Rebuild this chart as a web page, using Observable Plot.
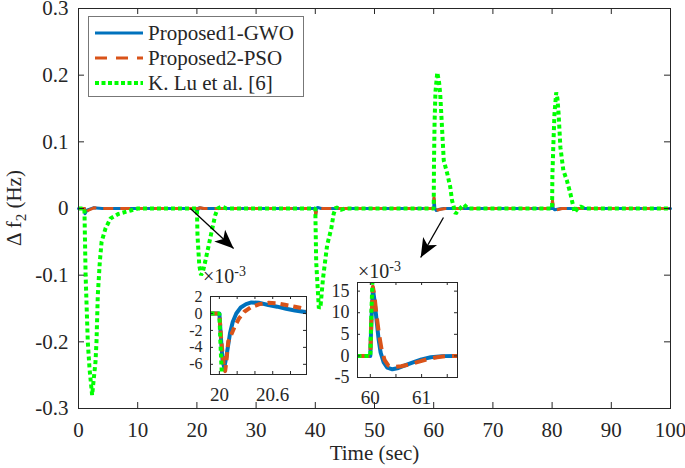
<!DOCTYPE html>
<html><head><meta charset="utf-8">
<script src="https://cdn.jsdelivr.net/npm/d3@7"></script>
<script src="https://cdn.jsdelivr.net/npm/@observablehq/plot@0.6"></script>
<style>
body{margin:0;background:#fff;}
#wrap{position:relative;width:685px;height:468px;font-family:"Liberation Serif",serif;color:#262626;}
.abs{position:absolute;white-space:nowrap;}
</style></head><body><div id="wrap"></div>
<script>
// ---------- main plot data ----------
const xTicks = [0,10,20,30,40,50,60,70,80,90,100];
const yTicks = [-0.3,-0.2,-0.1,0,0.1,0.2,0.3];
const yTickLabels = ["-0.3","-0.2","-0.1","0","0.1","0.2","0.3"];

const gwoT = [0,1,1.1,1.5,2.5,4,20,20.05,20.2,20.4,21,40,40.05,40.2,40.4,41,60,60.05,60.2,60.45,61,61.7,80,80.05,80.2,80.45,81.5,100];
const gwoV = [0,0,-0.008,-0.002,0.001,0,0,-0.0065,0,0.0013,0,0,-0.009,0,0.0015,0,0,0.0155,0,-0.003,-0.001,0,0,0.011,0,-0.002,0,0];
const psoT = [0,1,1.12,1.6,2.6,4,20,20.06,20.25,20.5,21.2,40,40.06,40.25,40.5,41.2,60,60.05,60.22,60.45,61.2,62,80,80.06,80.25,80.5,81.7,100];
const psoV = [0,0,-0.01,-0.003,0.001,0,0,-0.0068,-0.001,0.0012,0,0,-0.01,-0.001,0.0015,0,0,0.016,0.001,-0.0026,-0.001,0,0,0.012,0,-0.0025,0,0];
const luT = [0,1.0,1.2,1.57,1.86,2.3,2.87,3.04,3.26,3.6,3.9,4.56,5.4,6.8,8.8,10,
  20,20.1,20.4,20.7,21.0,21.4,22.0,22.6,23.1,23.5,24.2,25,
  40,40.15,40.6,40.9,41.3,42.0,42.7,43.1,43.5,44.3,45,
  60,60.05,60.15,60.3,60.6,60.9,61.1,61.4,61.7,62.3,62.8,63.1,63.7,64.2,65.1,65.8,
  80,80.05,80.2,80.4,80.7,80.9,81.1,81.4,81.9,82.5,83.1,83.8,84.3,84.8,85.5,100];
const luV = [0,0,-0.1,-0.2,-0.24,-0.28,-0.23,-0.2,-0.13,-0.08,-0.05,-0.03,-0.015,-0.008,-0.003,0,
  0,-0.04,-0.085,-0.1,-0.095,-0.08,-0.055,-0.03,-0.01,0,0.003,0,
  0,-0.08,-0.15,-0.145,-0.105,-0.055,-0.03,-0.008,0.002,-0.002,0,
  0,0.07,0.13,0.175,0.204,0.19,0.172,0.122,0.072,0.052,0.032,0.012,-0.008,-0.002,0.006,0,
  0,0.05,0.092,0.142,0.174,0.165,0.142,0.092,0.057,0.042,0.022,-0.006,0,0.003,0,0];

// annotation arrows (data coords)
const arrowX1 = [18.9, 61.65];
const arrowY1 = [0.0, -0.0135];
const arrowX2 = [26.2, 57.8];
const arrowY2 = [-0.06, -0.0735];

// ---------- inset 1 (x 1e-3) ----------
const in1XTicks = [20,20.2,20.4,20.6,20.8];
const in1XLabels = [20,20.6];
const in1YTicks = [-6,-4,-2,0,2];
const in1GwoT = [19.9,20.0,20.015,20.035,20.055,20.08,20.12,20.15,20.19,20.24,20.3,20.36,20.45,20.55,20.65,20.75,20.85,20.98];
const in1GwoV = [0,0,-2.5,-5.5,-6.4,-5,-2.3,-1,0,0.7,1.1,1.3,1.25,1.0,0.8,0.55,0.35,0.15];
const in1PsoT = [19.9,20.0,20.02,20.05,20.065,20.08,20.1,20.13,20.17,20.22,20.28,20.35,20.45,20.55,20.65,20.75,20.85,20.98];
const in1PsoV = [0,0,-3,-6.3,-6.8,-5.5,-3.3,-2.6,-1.6,-0.6,0.2,0.7,1.1,1.25,1.2,1.0,0.8,0.5];
const in1LuT = [19.9,20.0,20.01,20.03];
const in1LuV = [0,0,-3,-8];

// ---------- inset 2 (x 1e-3) ----------
const in2XTicks = [60,60.5,61,61.5];
const in2XLabels = [60,61];
const in2YTicks = [-5,0,5,10,15];
const in2GwoT = [59.75,60.0,60.02,60.05,60.08,60.12,60.16,60.2,60.26,60.33,60.43,60.55,60.7,60.86,61.0,61.18,61.4,61.7];
const in2GwoV = [0,0,8,15.5,13,8.5,4,0.8,-1.5,-2.7,-3.1,-2.8,-2.1,-1.4,-0.8,-0.3,-0.05,0];
const in2PsoT = [59.75,60.0,60.02,60.05,60.08,60.12,60.17,60.22,60.28,60.35,60.45,60.6,60.75,60.9,61.1,61.3,61.5,61.7];
const in2PsoV = [0,0,8,16,14,9.5,5,1.5,-1,-2.2,-2.6,-2.4,-2,-1.5,-0.8,-0.3,-0.05,0];
const in2LuT = [59.75,60.0,60.02,60.05];
const in2LuV = [0,0,10,20];

// ---------- helpers ----------
const pts = (T,V) => T.map((t,i) => ({t, v: V[i]}));
const BLUE = "#0072BD", RED = "#D95319", GREEN = "#00FF00", INK = "#262626";
const FONT = "'Liberation Serif', serif";
const wrap = document.getElementById("wrap");

// main layout
const W = 685, H = 468, mL = 78, mR = 15, mT = 8, mB = 60;
const xDom = [0,100], yDom = [-0.3,0.3];
const xs = d3.scaleLinear(xDom, [mL, W - mR]);
const ys = d3.scaleLinear(yDom, [H - mB, mT]);
const fw = W - mL - mR, fh = H - mT - mB, tk = 6;

const arrows = arrowX1.map((x1,i) => ({x1, y1: arrowY1[i], x2: arrowX2[i], y2: arrowY2[i]}));
const head = {draw(ctx){ ctx.moveTo(0,0); ctx.lineTo(-8,19); ctx.lineTo(0,14); ctx.lineTo(8,19); ctx.closePath(); }};
const ang = d => { const dx = xs(d.x2) - xs(d.x1), dy = ys(d.y2) - ys(d.y1); return Math.atan2(dx, -dy) * 180 / Math.PI; };

const main = Plot.plot({
  width: W, height: H, marginLeft: mL, marginRight: mR, marginTop: mT, marginBottom: mB,
  style: {fontFamily: FONT, fontSize: "21px", color: INK, background: "transparent", overflow: "visible"},
  x: {domain: xDom}, y: {domain: yDom},
  marks: [
    Plot.line(pts(gwoT, gwoV), {x: "t", y: "v", stroke: BLUE, strokeWidth: 3}),
    Plot.line(pts(psoT, psoV), {x: "t", y: "v", stroke: RED, strokeWidth: 3, strokeDasharray: "10,7", strokeLinecap: "butt"}),
    Plot.line(pts(luT, luV), {x: "t", y: "v", stroke: GREEN, strokeWidth: 4, strokeDasharray: "4,3", strokeLinecap: "butt", strokeLinejoin: "miter"}),
    Plot.link(arrows, {x1: "x1", y1: "y1", x2: "x2", y2: "y2", stroke: "black", strokeWidth: 1.3}),
    Plot.dot(arrows, {x: "x2", y: "y2", symbol: head, fill: "black", stroke: null, rotate: ang}),
    Plot.ruleX(xTicks, {insetTop: fh - tk, stroke: INK}),
    Plot.ruleX(xTicks, {insetBottom: fh - tk, stroke: INK}),
    Plot.ruleY(yTicks, {insetRight: fw - tk, stroke: INK}),
    Plot.ruleY(yTicks, {insetLeft: fw - tk, stroke: INK}),
    Plot.axisX({ticks: xTicks, tickSize: 0, tickPadding: 14, tickFormat: d => String(d), label: null, fontSize: 21, fontFamily: FONT}),
    Plot.axisY({ticks: yTicks, tickSize: 0, tickPadding: 10, tickFormat: d => yTickLabels[yTicks.indexOf(d)], label: null, fontSize: 21, fontFamily: FONT}),
    Plot.text(["Time (sec)"], {text: d => d, frameAnchor: "bottom", dy: 51, fontSize: 21, fontFamily: FONT, fill: INK}),
    Plot.frame({stroke: INK, strokeWidth: 1})
  ]
});
wrap.appendChild(main);

function inset(cfg) {
  const {left, top, fw, fh, xDom, yDom, xTicks, xLabels, yTicks, gwo, pso, lu, dash, yFont} = cfg;
  const mL = 36, mR = 4, mT = 4, mB = 36, t = 3;
  const p = Plot.plot({
    width: mL + fw + mR, height: mT + fh + mB, marginLeft: mL, marginRight: mR, marginTop: mT, marginBottom: mB,
    style: {fontFamily: FONT, fontSize: "18px", color: INK, background: "transparent", overflow: "visible"},
    x: {domain: xDom}, y: {domain: yDom},
    marks: [
      Plot.frame({fill: "white"}),
      Plot.line(gwo, {x: "t", y: "v", stroke: BLUE, strokeWidth: 4, clip: true}),
      Plot.line(pso, {x: "t", y: "v", stroke: RED, strokeWidth: 4, strokeDasharray: dash, strokeLinecap: "butt", clip: true}),
      Plot.line(lu, {x: "t", y: "v", stroke: GREEN, strokeWidth: 4, strokeDasharray: "4,3", strokeLinecap: "butt", strokeLinejoin: "miter", clip: true}),
      Plot.ruleX(xTicks, {insetTop: fh - t, stroke: INK}),
      Plot.ruleX(xTicks, {insetBottom: fh - t, stroke: INK}),
      Plot.ruleY(yTicks, {insetRight: fw - t, stroke: INK}),
      Plot.ruleY(yTicks, {insetLeft: fw - t, stroke: INK}),
      Plot.axisX({ticks: xLabels, tickSize: 0, tickPadding: 13, tickFormat: d => String(d), label: null, fontSize: 19, fontFamily: FONT}),
      Plot.axisY({ticks: yTicks, tickSize: 0, tickPadding: 8, tickFormat: d => String(d), label: null, fontSize: yFont, fontFamily: FONT}),
      Plot.frame({stroke: INK, strokeWidth: 1})
    ]
  });
  p.style.position = "absolute";
  p.style.left = (left - mL) + "px";
  p.style.top = (top - mT) + "px";
  wrap.appendChild(p);
}

inset({left: 210, top: 296, fw: 96, fh: 78, xDom: [19.9, 20.98], yDom: [-7.2, 2], yFont: 16,
  xTicks: in1XTicks, xLabels: in1XLabels, yTicks: in1YTicks, dash: "8,5",
  gwo: pts(in1GwoT, in1GwoV), pso: pts(in1PsoT, in1PsoV), lu: pts(in1LuT, in1LuV)});
inset({left: 357, top: 282, fw: 100, fh: 95, xDom: [59.75, 61.7], yDom: [-5, 17], yFont: 18,
  xTicks: in2XTicks, xLabels: in2XLabels, yTicks: in2YTicks, dash: "12,7",
  gwo: pts(in2GwoT, in2GwoV), pso: pts(in2PsoT, in2PsoV), lu: pts(in2LuT, in2LuV)});

// exponent labels
function expo(left, top) {
  const d = document.createElement("div");
  d.className = "abs";
  d.style.cssText += `left:${left}px;top:${top}px;font-size:20px;line-height:20px;`;
  d.innerHTML = '×10<sup style="font-size:14px;vertical-align:7px;line-height:0">-3</sup>';
  wrap.appendChild(d);
}
expo(203, 266);
expo(358, 261);

// y label
const yl = document.createElement("div");
yl.className = "abs";
yl.style.cssText += "left:14px;top:208px;font-size:21px;transform:translate(-50%,-50%) rotate(-90deg);";
yl.innerHTML = 'Δ f<sub style="font-size:15px;vertical-align:-5px;line-height:0">2</sub> (Hz)';
wrap.appendChild(yl);

// legend
const names = ["Proposed1-GWO","Proposed2-PSO","K. Lu et al. [6]"];
const lg = document.createElement("div");
lg.className = "abs";
lg.style.cssText += "left:88px;top:16px;width:216px;height:81px;border:1px solid #777;background:#fff;box-sizing:border-box;";
const styles = [
  `stroke="${BLUE}" stroke-width="3"`,
  `stroke="${RED}" stroke-width="3" stroke-dasharray="12,9"`,
  `stroke="${GREEN}" stroke-width="4" stroke-dasharray="4,2.5"`
];
names.forEach((n, i) => {
  const cy = 16 + i * 25;
  const row = document.createElement("div");
  row.className = "abs";
  row.style.cssText += `left:6px;top:${cy - 12}px;height:24px;line-height:24px;font-size:21px;`;
  row.innerHTML = `<svg width="48" height="24" style="vertical-align:top"><line x1="0" x2="48" y1="12" y2="12" ${styles[i]}/></svg><span style="margin-left:5px;vertical-align:top">${n}</span>`;
  lg.appendChild(row);
});
wrap.appendChild(lg);
</script>
</body></html>
